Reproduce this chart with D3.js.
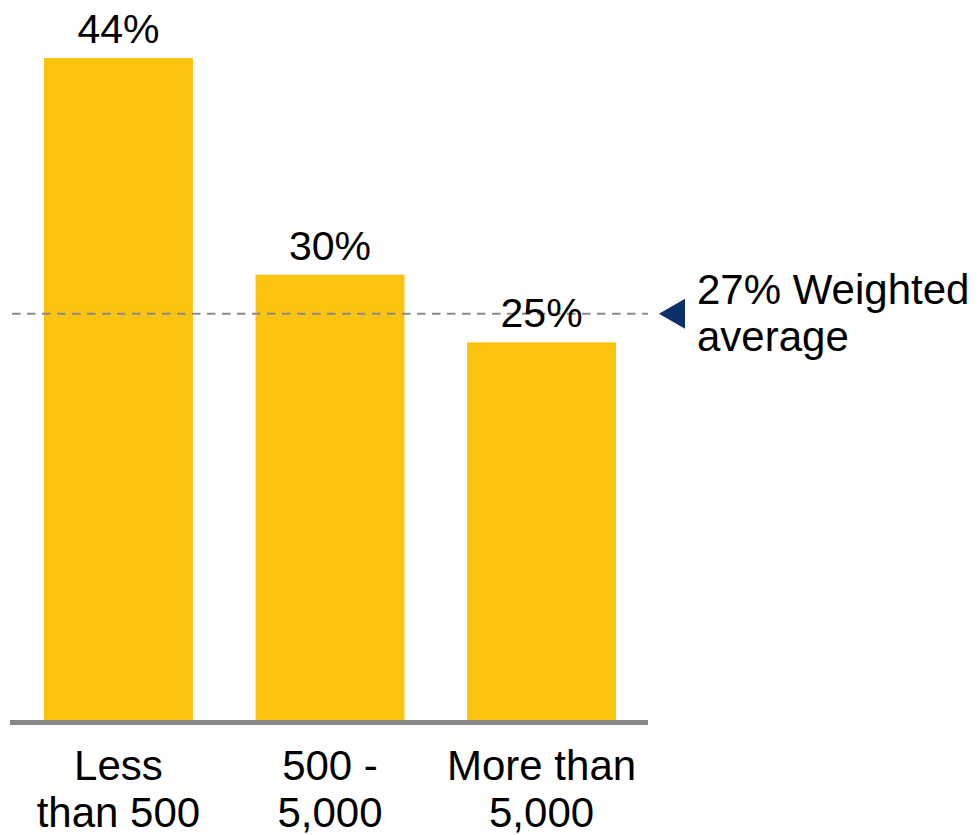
<!DOCTYPE html>
<html>
<head>
<meta charset="utf-8">
<script src="https://cdn.jsdelivr.net/npm/d3@7"></script>
<style>
  body { margin: 0; background: #fff; }
  text { font-family: "Liberation Sans", Arial, sans-serif; fill: #000; }
</style>
</head>
<body>
<div id="chart"></div>
<script>
// data
var categories = [['Less', 'than 500'], ['500 -', '5,000'], ['More than', '5,000']];
var values = [44, 29.6, 25.1];
var valueLabels = ['44%', '30%', '25%'];
var weightedAvg = 27;
var avgLabel = ['27% Weighted', 'average'];

var w = 979;
var h = 835;
var baseY = 720;

var svg = d3.select('#chart')
  .append('svg')
    .attr('width', w)
    .attr('height', h);

var xScale = d3.scaleBand()
  .domain(d3.range(categories.length))
  .range([12, 648])
  .paddingInner(0.296)
  .paddingOuter(0.151);

var yScale = d3.scaleLinear()
  .domain([0, 44])
  .range([baseY, 58]);

// bars
svg.selectAll('.bar')
  .data(values)
  .enter()
  .append('rect')
    .attr('class', 'bar')
    .attr('x', (d, i) => xScale(i))
    .attr('y', d => yScale(d))
    .attr('width', xScale.bandwidth())
    .attr('height', d => baseY - yScale(d))
    .attr('fill', '#fac30e');

// weighted average line
svg.append('line')
  .attr('x1', 12)
  .attr('x2', 648)
  .attr('y1', yScale(weightedAvg))
  .attr('y2', yScale(weightedAvg))
  .attr('stroke', '#8a8a8a')
  .attr('stroke-width', 2)
  .attr('stroke-dasharray', '8.5,6.5');

// value labels
svg.selectAll('.val-label')
  .data(values)
  .enter()
  .append('text')
    .attr('class', 'val-label')
    .attr('x', (d, i) => xScale(i) + xScale.bandwidth() / 2)
    .attr('y', d => yScale(d) - 15)
    .attr('text-anchor', 'middle')
    .style('font-size', '41px')
    .text((d, i) => valueLabels[i]);

// baseline
svg.append('line')
  .attr('x1', 10)
  .attr('x2', 648)
  .attr('y1', baseY + 2.5)
  .attr('y2', baseY + 2.5)
  .attr('stroke', '#878787')
  .attr('stroke-width', 5);

// category labels
var catLabels = svg.selectAll('.cat-label')
  .data(categories)
  .enter()
  .append('text')
    .attr('class', 'cat-label')
    .attr('text-anchor', 'middle')
    .style('font-size', '42px');

catLabels.selectAll('tspan')
  .data((d, i) => d.map(t => ({ t: t, i: i })))
  .enter()
  .append('tspan')
    .attr('x', d => xScale(d.i) + xScale.bandwidth() / 2)
    .attr('y', (d, j) => 780 + j * 47)
    .text(d => d.t);

// average marker
var ay = yScale(weightedAvg);
svg.append('path')
  .attr('d', 'M659,' + ay + 'L685,' + (ay - 15) + 'L685,' + (ay + 15) + 'Z')
  .attr('fill', '#0b2f66');

svg.append('text')
  .style('font-size', '42px')
  .selectAll('tspan')
  .data(avgLabel)
  .enter()
  .append('tspan')
    .attr('x', 697)
    .attr('y', (d, j) => 304 + j * 47)
    .text(d => d);
</script>
</body>
</html>
